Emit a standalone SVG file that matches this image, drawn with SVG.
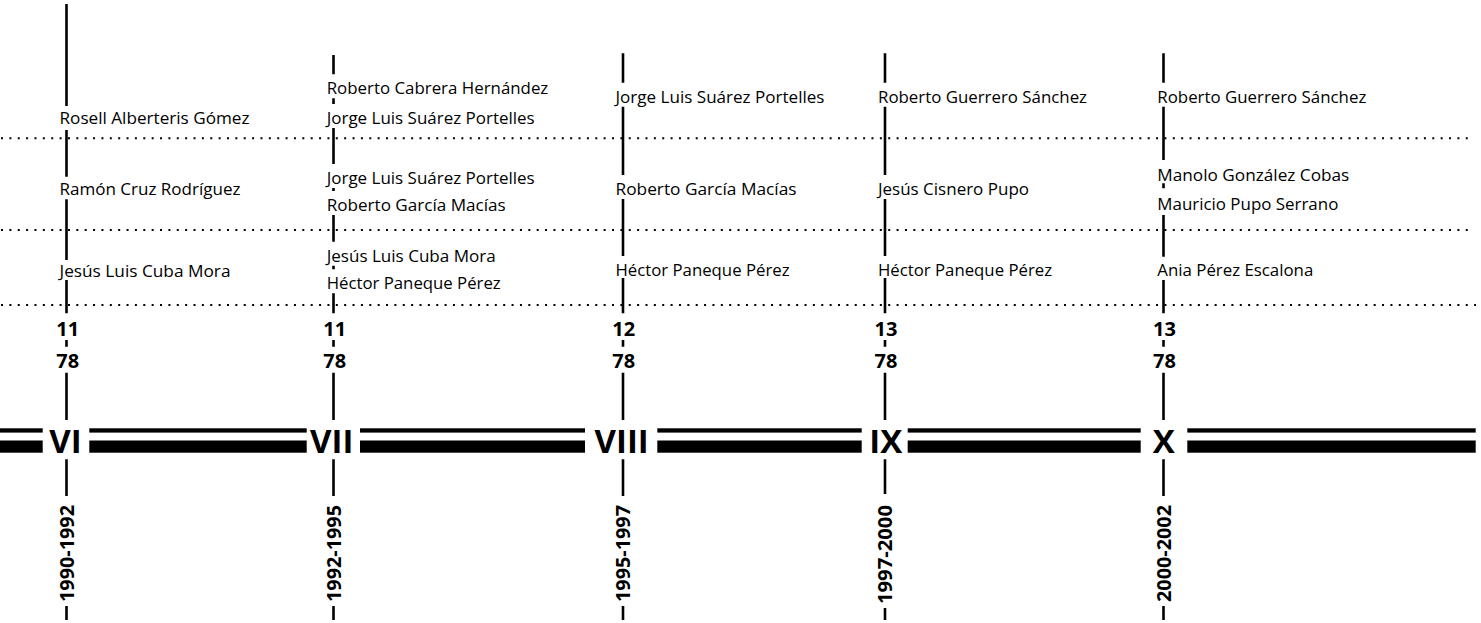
<svg xmlns="http://www.w3.org/2000/svg" width="1481" height="623" viewBox="0 0 1481 623">
<style>
.bg{fill:#fff}
.vl{fill:none;stroke:#000;stroke-width:2.6}
.dot{fill:none;stroke:#000;stroke-width:2;stroke-dasharray:2 6.37}
.bar{fill:#000}
.nm{font-family:"Open Sans","Noto Sans",sans-serif;font-size:16px;fill:#000}
.num{font-family:"Open Sans","Noto Sans",sans-serif;font-size:20px;font-weight:700;fill:#000}
.yr{font-family:"Open Sans","Noto Sans",sans-serif;font-size:19.5px;font-weight:700;fill:#000;text-anchor:end}
.rom{font-family:"Open Sans","Noto Sans",sans-serif;font-size:33px;font-weight:700;fill:#000;text-anchor:middle}
</style>
<rect class="bg" x="0" y="0" width="1481" height="623"/>
<g id="connectors">
  <path class="dot" d="M1 138.3H1468"/>
  <path class="dot" d="M1 230H1468"/>
  <path class="dot" d="M1 305H1476"/>
  <g id="timeline-bars">
    <rect class="bar" x="0" y="428.3" width="42.7" height="4.3"/>
    <rect class="bar" x="0" y="440.5" width="42.7" height="12.2"/>
    <rect class="bar" x="89.3" y="428.3" width="217.4" height="4.3"/>
    <rect class="bar" x="89.3" y="440.5" width="217.4" height="12.2"/>
    <rect class="bar" x="360" y="428.3" width="225" height="4.3"/>
    <rect class="bar" x="360" y="440.5" width="225" height="12.2"/>
    <rect class="bar" x="657.3" y="428.3" width="204.4" height="4.3"/>
    <rect class="bar" x="657.3" y="440.5" width="204.4" height="12.2"/>
    <rect class="bar" x="907.7" y="428.3" width="233" height="4.3"/>
    <rect class="bar" x="907.7" y="440.5" width="233" height="12.2"/>
    <rect class="bar" x="1187.3" y="428.3" width="288.4" height="4.3"/>
    <rect class="bar" x="1187.3" y="440.5" width="288.4" height="12.2"/>
  </g>
</g>
<g id="legislatura-VI">
  <path class="vl" d="M66.5 4V106M66.5 130V176.7M66.5 199.3V260M66.5 280V313.3M66.5 340V346.7M66.5 372.7V420M66.5 459.3V496M66.5 606V620"/>
  <text class="nm" x="59.5" y="123.5" textLength="190" lengthAdjust="spacingAndGlyphs">Rosell Alberteris Gómez</text>
  <text class="nm" x="59.5" y="195" textLength="181" lengthAdjust="spacingAndGlyphs">Ramón Cruz Rodríguez</text>
  <text class="nm" x="59.5" y="276.5" textLength="171" lengthAdjust="spacingAndGlyphs">Jesús Luis Cuba Mora</text>
  <text class="num" x="56.3" y="335.7">11</text>
  <text class="num" x="56.3" y="368.3">78</text>
  <text class="rom" x="65.5" y="453">VI</text>
  <text class="yr" transform="translate(73.5 505) rotate(-90)" textLength="97" lengthAdjust="spacingAndGlyphs">1990-1992</text>
</g>
<g id="legislatura-VII">
  <path class="vl" d="M333.5 55V74.3M333.5 98.3V104M333.5 128V164M333.5 188V191M333.5 215V241.7M333.5 265.7V269.3M333.5 293.3V313.3M333.5 340V346.7M333.5 372.7V420M333.5 459.3V496M333.5 606V620"/>
  <text class="nm" x="326.7" y="94.3" textLength="221.6" lengthAdjust="spacingAndGlyphs">Roberto Cabrera Hernández</text>
  <text class="nm" x="326.7" y="124" textLength="208" lengthAdjust="spacingAndGlyphs">Jorge Luis Suárez Portelles</text>
  <text class="nm" x="326.7" y="184" textLength="208" lengthAdjust="spacingAndGlyphs">Jorge Luis Suárez Portelles</text>
  <text class="nm" x="326.7" y="211" textLength="179" lengthAdjust="spacingAndGlyphs">Roberto García Macías</text>
  <text class="nm" x="326.7" y="261.7" textLength="169" lengthAdjust="spacingAndGlyphs">Jesús Luis Cuba Mora</text>
  <text class="nm" x="326.7" y="289.3" textLength="174" lengthAdjust="spacingAndGlyphs">Héctor Paneque Pérez</text>
  <text class="num" x="323.3" y="335.7">11</text>
  <text class="num" x="323.3" y="368.3">78</text>
  <text class="rom" x="331.7" y="453">VII</text>
  <text class="yr" transform="translate(340.5 505) rotate(-90)" textLength="97" lengthAdjust="spacingAndGlyphs">1992-1995</text>
</g>
<g id="legislatura-VIII">
  <path class="vl" d="M623 53.3V82.7M623 106.7V175M623 199V256M623 278V313.3M623 340V346.7M623 372.7V420M623 459.3V496M623 606V620"/>
  <text class="nm" x="615.5" y="102.7" textLength="209" lengthAdjust="spacingAndGlyphs">Jorge Luis Suárez Portelles</text>
  <text class="nm" x="615.5" y="195" textLength="181" lengthAdjust="spacingAndGlyphs">Roberto García Macías</text>
  <text class="nm" x="615.5" y="275.5" textLength="174" lengthAdjust="spacingAndGlyphs">Héctor Paneque Pérez</text>
  <text class="num" x="612.3" y="335.7">12</text>
  <text class="num" x="612.3" y="368.3">78</text>
  <text class="rom" x="621.7" y="453">VIII</text>
  <text class="yr" transform="translate(630 505) rotate(-90)" textLength="97" lengthAdjust="spacingAndGlyphs">1995-1997</text>
</g>
<g id="legislatura-IX">
  <path class="vl" d="M885 53.3V82.7M885 106.7V175M885 199V256M885 278V313.3M885 340V346.7M885 372.7V420M885 459.3V494M885 608V620"/>
  <text class="nm" x="878" y="102.7" textLength="209" lengthAdjust="spacingAndGlyphs">Roberto Guerrero Sánchez</text>
  <text class="nm" x="878" y="195" textLength="151" lengthAdjust="spacingAndGlyphs">Jesús Cisnero Pupo</text>
  <text class="nm" x="878" y="275.5" textLength="174" lengthAdjust="spacingAndGlyphs">Héctor Paneque Pérez</text>
  <text class="num" x="874.5" y="335.7">13</text>
  <text class="num" x="874.5" y="368.3">78</text>
  <text class="rom" x="885.8" y="453">IX</text>
  <text class="yr" transform="translate(892 505) rotate(-90)" textLength="99" lengthAdjust="spacingAndGlyphs">1997-2000</text>
</g>
<g id="legislatura-X">
  <path class="vl" d="M1163.5 53.3V82.7M1163.5 106.7V160M1163.5 183.3V188.3M1163.5 215V256.7M1163.5 280V313.3M1163.5 340V346.7M1163.5 372.7V420M1163.5 459.3V496M1163.5 606V620"/>
  <text class="nm" x="1157.3" y="102.7" textLength="209" lengthAdjust="spacingAndGlyphs">Roberto Guerrero Sánchez</text>
  <text class="nm" x="1157.3" y="180.5" textLength="192" lengthAdjust="spacingAndGlyphs">Manolo González Cobas</text>
  <text class="nm" x="1157.3" y="210" textLength="181" lengthAdjust="spacingAndGlyphs">Mauricio Pupo Serrano</text>
  <text class="nm" x="1157.3" y="276" textLength="156" lengthAdjust="spacingAndGlyphs">Ania Pérez Escalona</text>
  <text class="num" x="1153" y="335.7">13</text>
  <text class="num" x="1153" y="368.3">78</text>
  <text class="rom" x="1163.8" y="453">X</text>
  <text class="yr" transform="translate(1170.5 505) rotate(-90)" textLength="97" lengthAdjust="spacingAndGlyphs">2000-2002</text>
</g>
</svg>
